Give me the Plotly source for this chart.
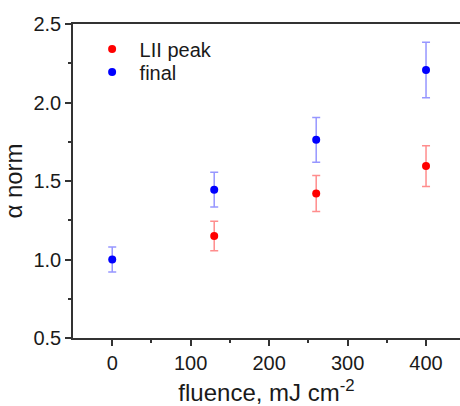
import plotly.graph_objects as go

fluence = [0, 130, 260, 400]
lii_peak = [None, 1.15, 1.42, 1.595]
lii_err = [0.0, 0.094, 0.115, 0.13]
final = [1.0, 1.445, 1.762, 2.207]
final_err = [0.08, 0.11, 0.142, 0.177]

fig = go.Figure()
fig.add_trace(go.Scatter(
    x=fluence, y=lii_peak, mode="markers", name="LII peak", legend="legend",
    marker=dict(color="#ff0000", size=8),
    error_y=dict(type="data", array=lii_err, color="rgba(255,80,80,0.65)", thickness=1.5, width=4),
))
fig.add_trace(go.Scatter(
    x=fluence, y=final, mode="markers", name="final", legend="legend2",
    marker=dict(color="#0000ff", size=8),
    error_y=dict(type="data", array=final_err, color="rgba(80,80,255,0.6)", thickness=1.5, width=4),
))

font = "Liberation Sans, Arial, sans-serif"
leg = dict(x=0.03, xanchor="left", yanchor="middle", bgcolor="rgba(0,0,0,0)",
           font=dict(size=20), itemwidth=45)
fig.update_layout(
    width=460, height=406,
    margin=dict(l=73, r=0, t=24, b=68),
    paper_bgcolor="white", plot_bgcolor="white",
    font=dict(family=font, color="#1a1a1a", size=20),
    showlegend=True,
    legend=dict(leg, y=0.920),
    legend2=dict(leg, y=0.847),
    xaxis=dict(
        range=[-50, 443.3], tickvals=[0, 100, 200, 300, 400],
        ticks="outside", ticklen=6, tickwidth=1.5, tickcolor="#333",
        minor=dict(tickvals=[50, 150, 250, 350], ticks="outside", ticklen=3, tickwidth=1.5, tickcolor="#333"),
        showline=True, linecolor="#333", linewidth=1.5, mirror=True,
        showgrid=False, zeroline=False,
        title=dict(text="fluence, mJ cm<sup>-2</sup>", font=dict(size=24), standoff=14),
    ),
    yaxis=dict(
        range=[0.5, 2.5], tickvals=[0.5, 1.0, 1.5, 2.0, 2.5], ticktext=["0.5", "1.0", "1.5", "2.0", "2.5"],
        ticks="outside", ticklen=6, tickwidth=1.5, tickcolor="#333",
        minor=dict(tickvals=[0.75, 1.25, 1.75, 2.25], ticks="outside", ticklen=3, tickwidth=1.5, tickcolor="#333"),
        showline=True, linecolor="#333", linewidth=1.5,
        showgrid=False, zeroline=False,
        title=dict(text="α norm", font=dict(size=24), standoff=4),
    ),
)
fig.write_html("out.html")
